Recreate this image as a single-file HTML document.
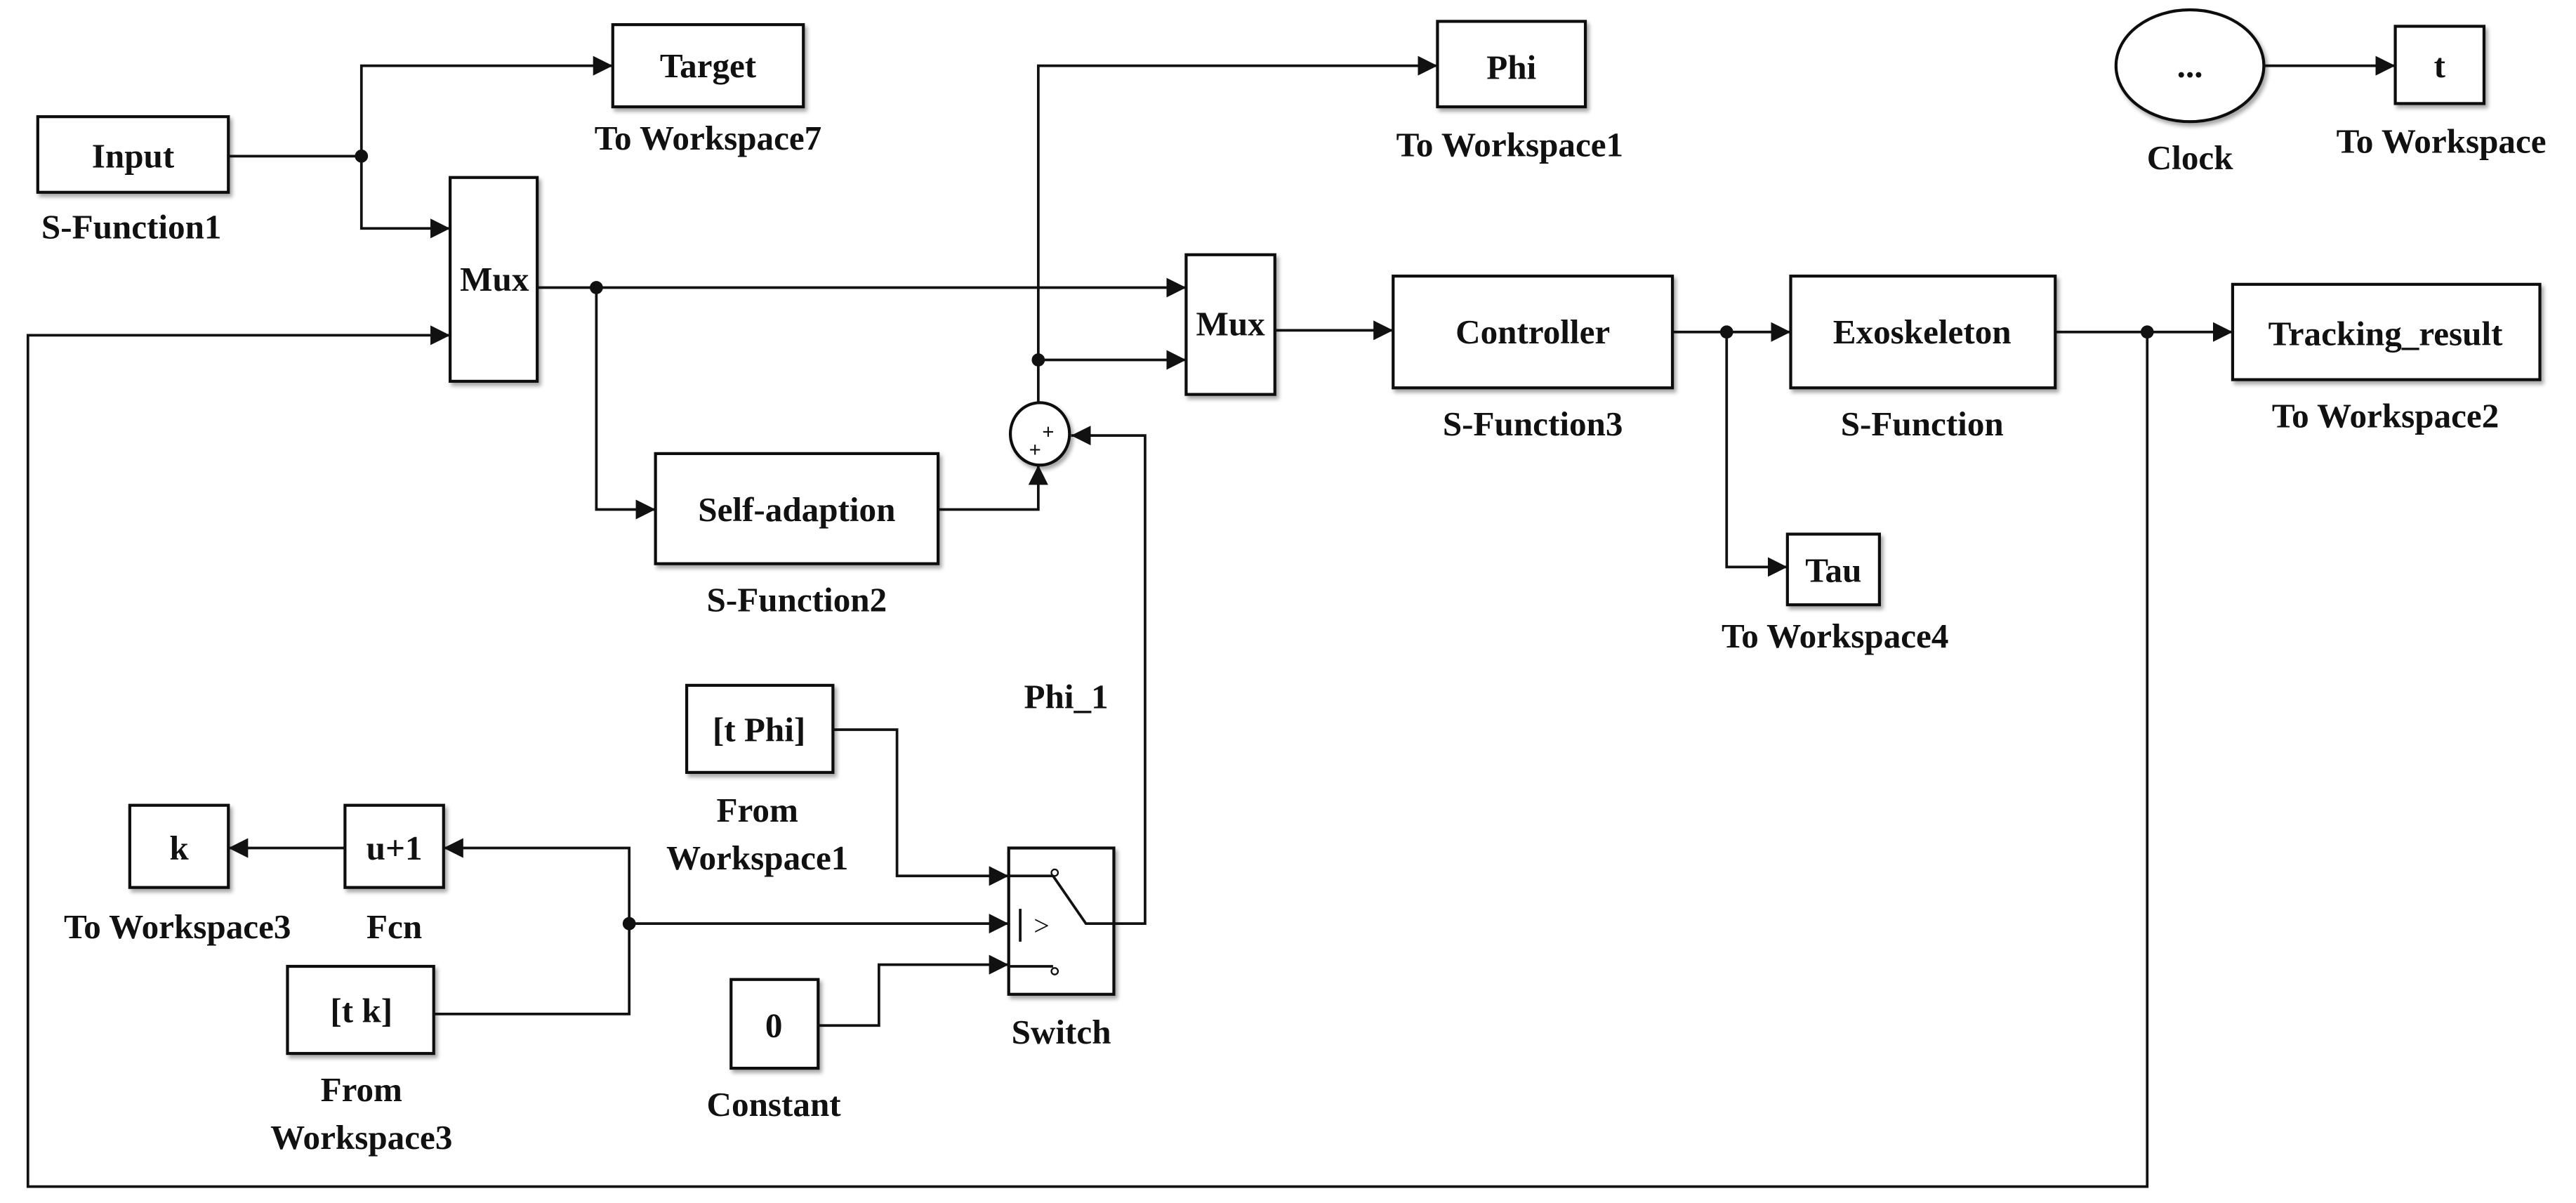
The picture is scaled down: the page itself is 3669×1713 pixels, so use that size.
<!DOCTYPE html>
<html><head><meta charset="utf-8"><style>
html,body{margin:0;padding:0;background:#fff;}
svg{display:block;}
text{font-family:"Liberation Serif",serif;font-weight:bold;font-size:21px;fill:#111;text-anchor:middle;}
.b{fill:#fff;stroke:#111;stroke-width:1.8;filter:url(#sh);}
.l{fill:none;stroke:#111;stroke-width:1.6;}
</style></head><body>
<svg width="3669" height="1713" viewBox="0 0 1568 732" preserveAspectRatio="none">
<defs>
<filter id="sh" x="-10%" y="-10%" width="130%" height="130%"><feDropShadow dx="1.5" dy="2" stdDeviation="1.2" flood-color="#000" flood-opacity="0.35"/></filter>
<marker id="a" markerWidth="12" markerHeight="12" refX="12" refY="6" orient="auto" markerUnits="userSpaceOnUse"><path d="M0,0 L12,6 L0,12 z" fill="#111"/></marker>
</defs>

<!-- blocks -->
<rect class="b" x="373" y="15" width="116" height="50"/><text x="431" y="47">Target</text><text x="431" y="91">To Workspace7</text>
<rect class="b" x="23" y="71" width="116" height="46"/><text x="81" y="102">Input</text><text x="80" y="145">S-Function1</text>
<rect class="b" x="274" y="108" width="53" height="124"/><text x="301" y="177">Mux</text>
<rect class="b" x="399" y="276" width="172" height="67"/><text x="485" y="317">Self-adaption</text><text x="485" y="372">S-Function2</text>
<ellipse class="b" cx="633" cy="264" rx="18" ry="19"/><text x="638" y="267" style="font-size:13px">+</text><text x="630" y="278" style="font-size:13px">+</text>
<rect class="b" x="875" y="13" width="90" height="52"/><text x="920" y="48">Phi</text><text x="919" y="95">To Workspace1</text>
<rect class="b" x="722" y="155" width="54" height="85"/><text x="749" y="204">Mux</text>
<rect class="b" x="848" y="168" width="170" height="68"/><text x="933" y="209">Controller</text><text x="933" y="265">S-Function3</text>
<rect class="b" x="1090" y="168" width="161" height="68"/><text x="1170" y="209">Exoskeleton</text><text x="1170" y="265">S-Function</text>
<rect class="b" x="1359" y="173" width="187" height="58"/><text x="1452" y="210">Tracking_result</text><text x="1452" y="260">To Workspace2</text>
<rect class="b" x="1088" y="325" width="56" height="43"/><text x="1116" y="354">Tau</text><text x="1117" y="394">To Workspace4</text>
<ellipse class="b" cx="1333" cy="40" rx="45" ry="34"/><text x="1333" y="47">...</text><text x="1333" y="103">Clock</text>
<rect class="b" x="1458" y="16" width="54" height="47"/><text x="1485" y="47">t</text><text x="1486" y="93">To Workspace</text>
<rect class="b" x="418" y="417" width="89" height="53"/><text x="462" y="451">[t Phi]</text><text x="461" y="500">From</text><text x="461" y="529">Workspace1</text>
<rect class="b" x="614" y="516" width="64" height="89"/>
<rect class="b" x="79" y="490" width="60" height="50"/><text x="109" y="523">k</text><text x="108" y="571">To Workspace3</text>
<rect class="b" x="210" y="490" width="60" height="50"/><text x="240" y="523">u+1</text><text x="240" y="571">Fcn</text>
<rect class="b" x="175" y="588" width="89" height="53"/><text x="220" y="622">[t k]</text><text x="220" y="670">From</text><text x="220" y="699">Workspace3</text>
<rect class="b" x="445" y="596" width="53" height="54"/><text x="471" y="631">0</text><text x="471" y="679">Constant</text>
<text x="646" y="635">Switch</text>
<text x="649" y="431">Phi_1</text>

<!-- switch internals -->
<path class="l" d="M614,533 H641 M614,588 H641 M621,553 V573 M641,533 L661,562 H678" />
<circle cx="642" cy="531" r="2" fill="#fff" stroke="#111"/>
<circle cx="642" cy="591" r="2" fill="#fff" stroke="#111"/>
<text x="634" y="569" style="font-size:17px;font-weight:normal">&gt;</text>

<!-- connectors -->
<path class="l" d="M139,95 H220 V40 H373" marker-end="url(#a)"/>
<path class="l" d="M220,95 V139 H274" marker-end="url(#a)"/>
<path class="l" d="M327,175 H722" marker-end="url(#a)"/>
<path class="l" d="M363,175 V310 H399" marker-end="url(#a)"/>
<path class="l" d="M1307,202 V722 H17 V204 H274" marker-end="url(#a)"/>
<path class="l" d="M571,310 H632 V283" marker-end="url(#a)"/>
<path class="l" d="M632,245 V40 H875" marker-end="url(#a)"/>
<path class="l" d="M632,219 H722" marker-end="url(#a)"/>
<path class="l" d="M678,562 H697 V265 H652" marker-end="url(#a)"/>
<path class="l" d="M776,201 H848" marker-end="url(#a)"/>
<path class="l" d="M1018,202 H1090" marker-end="url(#a)"/>
<path class="l" d="M1051,202 V345 H1088" marker-end="url(#a)"/>
<path class="l" d="M1251,202 H1359" marker-end="url(#a)"/>
<path class="l" d="M1378,40 H1458" marker-end="url(#a)"/>
<path class="l" d="M507,444 H546 V533 H614" marker-end="url(#a)"/>
<path class="l" d="M264,617 H383 V516 H270" marker-end="url(#a)"/>
<path class="l" d="M210,516 H139" marker-end="url(#a)"/>
<path class="l" d="M383,562 H614" marker-end="url(#a)"/>
<path class="l" d="M498,624 H535 V587 H614" marker-end="url(#a)"/>

<!-- junction dots -->
<circle cx="220" cy="95" r="4" fill="#111"/>
<circle cx="363" cy="175" r="4" fill="#111"/>
<circle cx="632" cy="219" r="4" fill="#111"/>
<circle cx="1051" cy="202" r="4" fill="#111"/>
<circle cx="1307" cy="202" r="4" fill="#111"/>
<circle cx="383" cy="562" r="4" fill="#111"/>
</svg>
</body></html>
